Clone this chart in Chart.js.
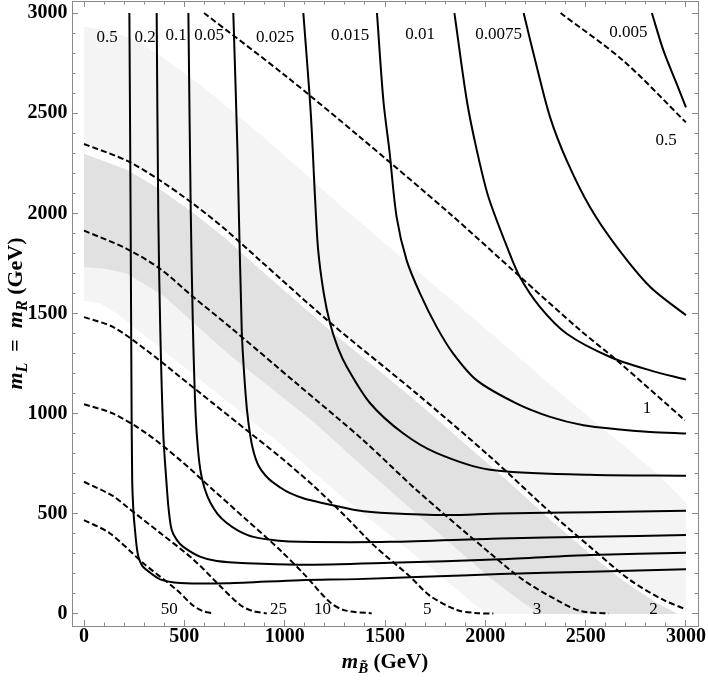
<!DOCTYPE html>
<html>
<head>
<meta charset="utf-8">
<script src="https://cdn.jsdelivr.net/npm/chart.js@4.4.1/dist/chart.umd.min.js"></script>
<style>
html,body{margin:0;padding:0;background:#fff;}
#wrap{width:708px;height:683px;}
</style>
</head>
<body>
<div id="wrap"><canvas id="c" width="708" height="683"></canvas></div>
<script>
// ---------- axis ticks ----------
const tickValues = [0, 500, 1000, 1500, 2000, 2500, 3000];

// ---------- shaded bands (x = m_B, y = m_L = m_R, GeV) ----------
const lightUpperEdge = [[0,2931],[130,2911],[296,2845],[462,2728],[595,2629],[877,2396],[1300,2020],[1658,1715],[2024,1405],[2400,1080],[2838,718],[3000,556]];
const lightLowerEdge = [[0,1565],[80,1550],[160,1503],[395,1316],[645,1117],[977,851],[1310,565],[1642,300],[1941,53],[2008,0]];
const darkUpperEdge  = [[0,2298],[213,2218],[379,2119],[545,2002],[711,1869],[877,1720],[1226,1415],[1658,1060],[2107,668],[2323,470],[2522,300],[2688,165],[2855,55],[2955,3]];
const darkLowerEdge  = [[0,1731],[100,1725],[213,1700],[395,1590],[728,1290],[1143,960],[1430,700],[1691,470],[2024,180],[2190,55],[2273,0]];

// ---------- solid contours ----------
const solid_0_5    = [[226,3000],[232,2000],[236,1200],[240,668],[247,500],[254,419],[262,340],[271,286],[290,240],[313,219],[379,173],[479,155],[711,153],[1077,169],[1359,174],[1691,186],[2074,199],[2522,211],[3000,223]];
const solid_0_2    = [[362,3000],[370,2000],[380,1416],[395,900],[410,668],[422,520],[437,419],[462,370],[495,335],[578,286],[662,264],[811,253],[1077,246],[1525,256],[2074,273],[2522,294],[3000,306]];
const solid_0_1    = [[520,3000],[532,2000],[543,1416],[556,1000],[568,820],[583,700],[603,620],[630,555],[665,500],[710,455],[770,415],[844,385],[970,366],[1077,360],[1525,360],[2074,377],[2522,385],[3000,394]];
const solid_0_05   = [[744,3000],[765,2300],[786,1416],[805,1100],[820,950],[840,830],[870,740],[920,675],[980,630],[1027,603],[1100,575],[1193,553],[1359,518],[1525,503],[1808,494],[2074,502],[2522,508],[3000,515]];
const solid_0_025  = [[1093,3000],[1130,2500],[1152,2064],[1167,1815],[1195,1600],[1226,1451],[1265,1330],[1310,1233],[1426,1052],[1590,902],[1758,803],[2024,720],[2522,695],[3000,690]];
const solid_0_015  = [[1460,3000],[1492,2562],[1522,2313],[1558,1981],[1608,1765],[1675,1599],[1758,1432],[1840,1300],[1958,1166],[2157,1050],[2323,984],[2489,942],[2656,922],[2822,909],[3000,901]];
const solid_0_01   = [[1846,3000],[1908,2562],[1958,2313],[2016,2080],[2115,1815],[2173,1681],[2273,1532],[2406,1399],[2622,1283],[2822,1216],[3000,1170]];
const solid_0_0075 = [[2191,3000],[2257,2729],[2323,2479],[2406,2263],[2522,2030],[2656,1831],[2822,1632],[3000,1491]];
const solid_0_005  = [[2830,3000],[2888,2812],[2954,2646],[3000,2529]];

// ---------- dashed contours ----------
const dashed_50  = [[0,469],[130,402],[296,253],[462,120],[540,45],[590,15],[645,3]];
const dashed_25  = [[0,660],[146,588],[213,535],[379,405],[545,272],[678,140],[778,45],[840,15],[911,3]];
const dashed_10  = [[0,1047],[146,1000],[312,901],[479,768],[645,618],[811,469],[977,319],[1100,195],[1226,58],[1300,18],[1434,3]];
const dashed_5   = [[0,1482],[146,1432],[312,1316],[479,1183],[645,1050],[811,917],[977,784],[1143,640],[1300,490],[1442,345],[1625,186],[1725,90],[1858,20],[1950,5],[2040,2]];
const dashed_3   = [[0,1914],[213,1823],[379,1723],[545,1582],[728,1432],[1060,1150],[1392,867],[1658,618],[2024,303],[2190,169],[2356,70],[2473,15],[2614,2]];
const dashed_2   = [[0,2346],[213,2263],[379,2164],[545,2047],[711,1914],[877,1765],[1226,1455],[1658,1100],[2024,785],[2323,508],[2522,335],[2722,169],[2888,70],[3000,23]];
const dashed_1   = [[598,3000],[1000,2690],[1376,2380],[1825,1997],[2157,1698],[2473,1416],[2656,1266],[2995,967]];
const dashed_0_5 = [[2375,3000],[2688,2762],[3000,2454]];

// ---------- contour labels ----------
const labelText = ['0.5','0.2','0.1','0.05','0.025','0.015','0.01','0.0075','0.005','0.5','1','50','25','10','5','3','2'];
const labelX    = [115,304,459,623,952,1326,1675,2066,2713,2901,2806,425,969,1188,1711,2257,2838];
const labelY    = [2876,2876,2886,2886,2876,2886,2895,2895,2903,2363,1025,20,20,20,20,20,20];

// ---------- build ----------
const pts = a => a.map(([x, y]) => ({x, y}));
const rev = a => a.slice().reverse();
const lightPoly = [...lightUpperEdge, [3000,0], ...rev(lightLowerEdge)];
const stripPoly = [...dashed_2, [3000,0], ...rev(darkUpperEdge)];
const darkPoly  = [...darkUpperEdge, [2955,0], ...rev(darkLowerEdge)];

const SERIF = "'Liberation Serif', 'Times New Roman', serif";
const FRAME = '#8a8a8a';

function area(poly, color, order) {
  return {data: pts(poly), showLine: true, fill: 'shape', backgroundColor: color,
          borderColor: 'rgba(0,0,0,0)', borderWidth: 0, pointRadius: 0, tension: 0, order};
}
function contour(arr, dashed) {
  return {data: pts(arr), showLine: true, fill: false, borderColor: '#000', borderWidth: 2,
          borderDash: dashed ? [6, 3] : [], pointRadius: 0, tension: 0.3, order: 1};
}

const datasets = [
  area(lightPoly, '#f4f4f4', 10),
  area(stripPoly, '#ffffff', 9),
  area(darkPoly, '#e1e1e1', 8),
  ...[solid_0_5, solid_0_2, solid_0_1, solid_0_05, solid_0_025, solid_0_015, solid_0_01, solid_0_0075, solid_0_005].map(a => contour(a, false)),
  ...[dashed_50, dashed_25, dashed_10, dashed_5, dashed_3, dashed_2, dashed_1, dashed_0_5].map(a => contour(a, true))
];

function frameAxis(pos, major, labelled) {
  const horiz = (pos === 'top' || pos === 'bottom');
  const s = {
    type: 'linear', axis: horiz ? 'x' : 'y', position: pos, min: -60, max: 3060, weight: major ? 1 : 0,
    grid: {display: true, drawOnChartArea: false, drawTicks: true, tickLength: major ? -6 : -3.5,
           tickColor: FRAME, tickWidth: 1},
    border: {display: major, color: FRAME, width: 1},
    ticks: {display: labelled, autoSkip: false, maxRotation: 0, includeBounds: false,
            color: '#000', font: {family: SERIF, size: 20, weight: 'bold'},
            padding: horiz ? 5 : 10.5, stepSize: major ? 500 : 100,
            callback: v => String(v)},
    afterFit: sc => {
      if (horiz) sc.height = labelled ? 57 : 0; else sc.width = labelled ? 72 : 0;
      sc.paddingLeft = 0; sc.paddingRight = 0; sc.paddingTop = 0; sc.paddingBottom = 0;
    }
  };
  if (major) s.afterBuildTicks = sc => { sc.ticks = tickValues.map(v => ({value: v})); };
  return s;
}

function drawRich(ctx, parts, cx, baseY) {
  let total = 0;
  parts.forEach(p => { ctx.font = p.font; p.w = ctx.measureText(p.t).width; total += p.w; });
  let x = cx - total / 2;
  ctx.textAlign = 'left'; ctx.textBaseline = 'alphabetic';
  parts.forEach(p => { ctx.font = p.font; ctx.fillText(p.t, x, baseY + (p.dy || 0)); x += p.w; });
}

const textPlugin = {
  id: 'texts',
  afterDraw(chart) {
    const ctx = chart.ctx, xs = chart.scales.x, ys = chart.scales.y;
    ctx.save();
    ctx.fillStyle = '#000';
    ctx.font = '17px ' + SERIF;
    ctx.textAlign = 'center'; ctx.textBaseline = 'middle';
    labelText.forEach((t, i) => ctx.fillText(t, xs.getPixelForValue(labelX[i]), ys.getPixelForValue(labelY[i])));

    const cx = (chart.chartArea.left + chart.chartArea.right) / 2;
    drawRich(ctx, [{t: 'm', font: 'italic bold 21px ' + SERIF},
                   {t: 'B\u0303', font: 'italic bold 15px ' + SERIF, dy: 5},
                   {t: ' (GeV)', font: 'bold 21px ' + SERIF}], cx, 668);

    const cy = (chart.chartArea.top + chart.chartArea.bottom) / 2;
    ctx.translate(22, cy);
    ctx.rotate(-Math.PI / 2);
    const BI = 'italic bold 22px ' + SERIF, BIs = 'italic bold 16px ' + SERIF, B = 'bold 22px ' + SERIF;
    drawRich(ctx, [{t: 'm', font: BI}, {t: 'L', font: BIs, dy: 5}, {t: '\u2002=\u2002', font: B},
                   {t: 'm', font: BI}, {t: 'R', font: BIs, dy: 5}, {t: ' (GeV)', font: B}], 0, 0);
    ctx.restore();
  }
};

new Chart(document.getElementById('c'), {
  type: 'scatter',
  data: {datasets},
  options: {
    responsive: false, animation: false, devicePixelRatio: 1,
    layout: {padding: {top: 1, right: 10, bottom: 0, left: 0}},
    plugins: {legend: {display: false}, tooltip: {enabled: false}},
    scales: {
      x: frameAxis('bottom', true, true),
      xMinor: frameAxis('bottom', false, false),
      xTop: frameAxis('top', true, false),
      xTopMinor: frameAxis('top', false, false),
      y: frameAxis('left', true, true),
      yMinor: frameAxis('left', false, false),
      yRight: frameAxis('right', true, false),
      yRightMinor: frameAxis('right', false, false)
    }
  },
  plugins: [textPlugin]
});
</script>
</body>
</html>
